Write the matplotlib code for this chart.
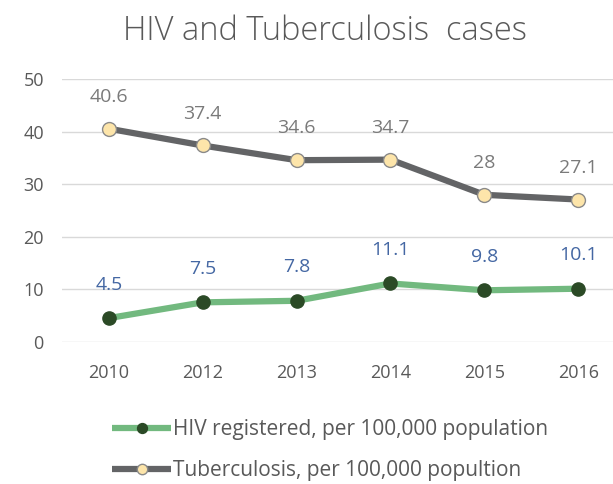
import matplotlib.pyplot as plt
import numpy as np

#datos
years = ["2010", "2012", "2013", "2014", "2015", "2016"]
hiv = [4.5, 7.5, 7.8, 11.1, 9.8, 10.1]
tb = [40.6, 37.4, 34.6, 34.7, 28, 27.1]
hiv_labels = ["4.5", "7.5", "7.8", "11.1", "9.8", "10.1"]
tb_labels = ["40.6", "37.4", "34.6", "34.7", "28", "27.1"]

plt.rcParams["font.family"] = ["Open Sans", "DejaVu Sans"]

fig = plt.figure(figsize=(6.13, 4.84), dpi=100)
ax = fig.add_axes([0.101, 0.294, 0.899, 0.542])

x = np.arange(len(years))

#lineas
ax.plot(x, hiv, color="#72b97f", linewidth=4.5, marker="o", markersize=9.5,
        markerfacecolor="#2b4a26", markeredgecolor="#2b4a26", solid_capstyle="butt",
        label="HIV registered, per 100,000 population", zorder=3)
ax.plot(x, tb, color="#636466", linewidth=4.5, marker="o", markersize=10,
        markerfacecolor="#fde5aa", markeredgecolor="#8a8a8a", markeredgewidth=1,
        solid_capstyle="butt", label="Tuberculosis, per 100,000 popultion", zorder=3)

#etiquetas de datos
for xi, v, t in zip(x, hiv, hiv_labels):
    ax.annotate(t, (xi, v), xytext=(0, 24), textcoords="offset points",
                ha="center", va="center", fontsize=14, color="#4467a3")
for xi, v, t in zip(x, tb, tb_labels):
    ax.annotate(t, (xi, v), xytext=(0, 23), textcoords="offset points",
                ha="center", va="center", fontsize=14, color="#7a7a7a")

ax.set_xlim(-0.5, 5.37)
ax.set_ylim(0, 50)
ax.set_yticks([0, 10, 20, 30, 40, 50])
ax.set_xticks(x)
ax.set_xticklabels(years)

ax.grid(axis="y", color="#d9d9d9", linewidth=1)
ax.set_axisbelow(True)
for s in ["top", "right", "left", "bottom"]:
    ax.spines[s].set_visible(False)
ax.tick_params(axis="both", length=0, labelsize=13, labelcolor="#595959")
ax.tick_params(axis="y", pad=13)
ax.tick_params(axis="x", pad=16)

fig.text(0.53, 1 - 31 / 484, "HIV and Tuberculosis  cases", ha="center", va="center",
         fontsize=23.5, color="#595959", fontweight="light")

fig.legend(loc="upper left", bbox_to_anchor=(102 / 613, 1 - 409 / 484), frameon=False,
           fontsize=15, handlelength=2.8, handletextpad=0.1, labelspacing=0.95,
           labelcolor="#595959", borderpad=0, markerscale=0.75)

fig.savefig("out.png", dpi=100)
